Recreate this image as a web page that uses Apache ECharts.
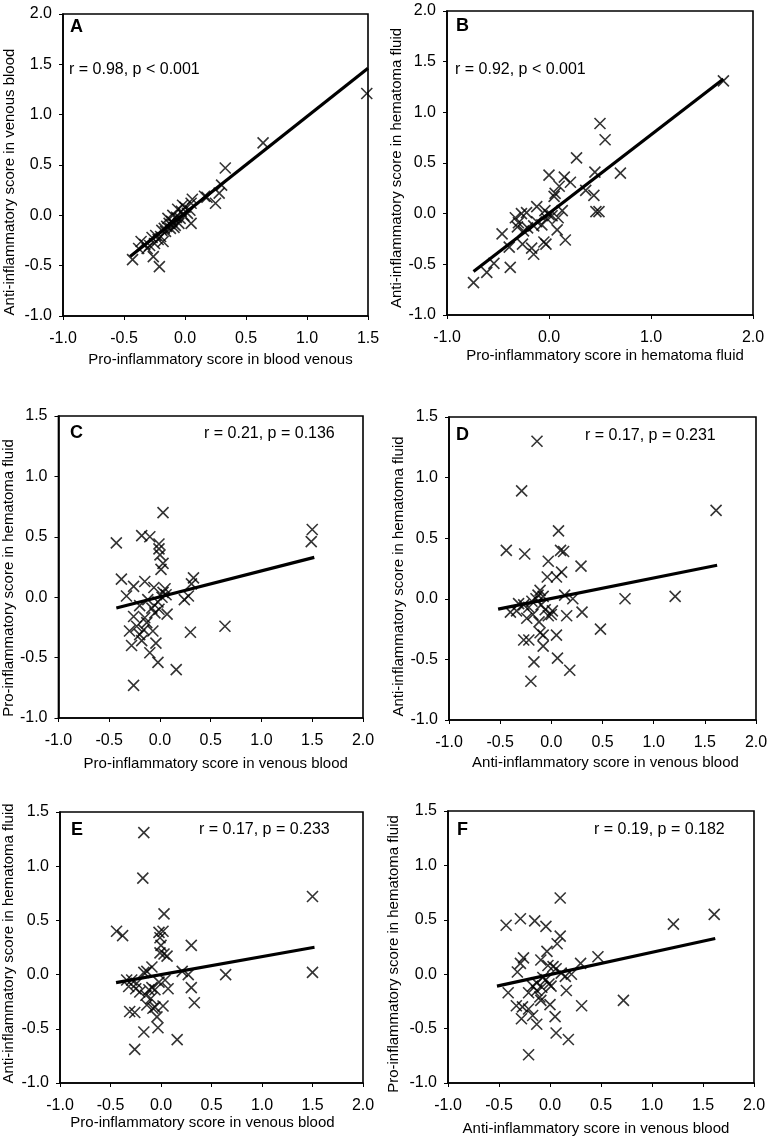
<!DOCTYPE html>
<html>
<head>
<meta charset="utf-8">
<script src="https://cdn.jsdelivr.net/npm/echarts@6/dist/echarts.min.js"></script>
<style>
html,body{margin:0;padding:0;background:#fff;}
#chart{width:771px;height:1142px;}
</style>
</head>
<body>
<div id="chart"></div>
<script>
// ---- Data ----
const pointsA = [[1.49,1.21],[0.64,0.72],[0.33,0.47],[0.30,0.30],[0.28,0.22],[0.25,0.12],[0.18,0.18],[0.16,0.19],[0.06,0.16],[0.05,0.12],[0.04,0.05],[0.05,-0.08],[0.02,0.02],[-0.01,0.00],[-0.02,0.10],[-0.03,0.04],[-0.04,-0.03],[-0.06,0.06],[-0.07,-0.02],[-0.08,-0.10],[-0.10,0.00],[-0.11,-0.06],[-0.12,-0.13],[-0.13,-0.08],[-0.14,-0.03],[-0.15,-0.11],[-0.16,-0.16],[-0.17,-0.13],[-0.18,-0.26],[-0.19,-0.15],[-0.20,-0.21],[-0.21,-0.51],[-0.22,-0.24],[-0.24,-0.20],[-0.25,-0.28],[-0.26,-0.41],[-0.27,-0.22],[-0.29,-0.30],[-0.31,-0.33],[-0.33,-0.29],[-0.36,-0.26],[-0.38,-0.33],[-0.43,-0.44],[0.00,0.08],[-0.05,-0.08],[-0.09,-0.12]];
const pointsB = [[1.71,1.31],[0.50,0.89],[0.55,0.73],[0.27,0.55],[0.70,0.40],[0.45,0.41],[0.44,0.18],[0.36,0.23],[0.46,0.02],[0.49,0.02],[0.00,0.38],[0.15,0.36],[0.21,0.31],[0.10,0.27],[0.06,0.20],[0.05,0.17],[0.13,0.03],[0.09,-0.04],[0.08,-0.16],[0.16,-0.26],[-0.04,0.03],[0.00,-0.01],[0.03,-0.02],[-0.12,0.07],[-0.22,0.01],[-0.27,0.00],[-0.33,-0.04],[-0.30,-0.09],[-0.31,-0.13],[-0.21,-0.14],[-0.15,-0.12],[-0.12,-0.08],[-0.07,-0.11],[-0.05,-0.28],[-0.03,-0.30],[-0.46,-0.20],[-0.26,-0.30],[-0.39,-0.33],[-0.17,-0.34],[-0.15,-0.40],[-0.38,-0.53],[-0.54,-0.49],[-0.61,-0.58],[-0.74,-0.68],[-0.02,-0.05],[-0.25,-0.17]];
const pointsC = [[1.50,0.56],[1.49,0.46],[0.03,0.70],[-0.43,0.45],[-0.18,0.51],[-0.10,0.50],[-0.01,0.44],[-0.01,0.40],[0.00,0.35],[0.03,0.28],[0.01,0.23],[-0.38,0.15],[-0.26,0.09],[-0.15,0.13],[-0.33,0.01],[0.33,0.16],[0.31,0.11],[0.28,0.01],[0.24,-0.02],[-0.06,0.08],[0.05,0.07],[0.06,0.02],[0.02,0.00],[-0.02,-0.04],[0.07,-0.14],[-0.12,-0.02],[-0.08,-0.09],[-0.05,-0.13],[-0.20,-0.07],[-0.26,-0.16],[-0.15,-0.17],[-0.13,-0.21],[-0.23,-0.24],[-0.16,-0.27],[-0.07,-0.28],[-0.30,-0.28],[-0.20,-0.31],[-0.28,-0.40],[-0.18,-0.36],[-0.04,-0.38],[-0.10,-0.46],[-0.02,-0.54],[0.16,-0.60],[0.30,-0.29],[0.64,-0.24],[-0.26,-0.73],[-0.01,-0.10],[0.03,0.04]];
const pointsD = [[-0.14,1.30],[-0.29,0.89],[1.61,0.73],[0.07,0.56],[-0.44,0.40],[-0.26,0.37],[0.09,0.40],[0.12,0.39],[-0.03,0.31],[0.29,0.27],[-0.04,0.18],[0.05,0.18],[0.10,0.22],[0.72,0.00],[1.21,0.02],[0.13,0.03],[0.21,0.00],[-0.11,0.07],[-0.13,0.03],[-0.15,0.00],[-0.08,0.02],[-0.32,-0.04],[-0.27,-0.05],[-0.19,-0.02],[-0.40,-0.11],[-0.34,-0.10],[-0.24,-0.16],[-0.18,-0.13],[-0.12,-0.19],[-0.06,-0.09],[0.00,-0.13],[-0.03,-0.14],[0.01,-0.10],[0.15,-0.14],[0.30,-0.11],[0.48,-0.25],[-0.11,-0.28],[-0.08,-0.30],[0.05,-0.30],[-0.27,-0.34],[-0.22,-0.34],[-0.08,-0.39],[0.06,-0.49],[0.18,-0.59],[-0.17,-0.52],[-0.20,-0.68],[-0.10,-0.05],[-0.22,-0.07]];
const pointsE = [[-0.17,1.31],[-0.18,0.89],[1.50,0.72],[1.50,0.02],[0.03,0.56],[-0.44,0.40],[-0.38,0.36],[-0.02,0.39],[0.02,0.40],[-0.01,0.34],[0.00,0.27],[0.30,0.27],[-0.01,0.20],[0.03,0.19],[0.06,0.17],[-0.09,0.07],[-0.14,0.03],[-0.17,0.02],[0.21,0.03],[0.27,0.00],[0.64,0.00],[0.04,-0.05],[0.07,-0.13],[0.30,-0.12],[0.33,-0.26],[-0.34,-0.05],[-0.29,-0.05],[-0.24,-0.08],[-0.32,-0.11],[-0.21,-0.16],[-0.15,-0.19],[-0.09,-0.12],[-0.06,-0.14],[-0.02,-0.07],[-0.14,-0.28],[-0.08,-0.31],[0.02,-0.29],[-0.10,-0.22],[-0.04,-0.39],[-0.03,-0.49],[-0.31,-0.34],[-0.26,-0.35],[-0.17,-0.53],[0.16,-0.60],[-0.26,-0.69],[-0.12,-0.14],[-0.25,-0.13],[-0.06,-0.30]];
const pointsF = [[0.10,0.70],[1.61,0.55],[1.21,0.46],[-0.43,0.45],[-0.29,0.51],[-0.15,0.49],[-0.04,0.44],[0.10,0.35],[0.07,0.28],[-0.03,0.21],[-0.26,0.15],[-0.29,0.10],[-0.32,0.02],[-0.09,0.13],[-0.02,0.08],[0.03,0.07],[0.06,0.05],[0.30,0.10],[0.47,0.16],[0.11,0.01],[0.15,-0.02],[0.21,0.00],[-0.07,-0.03],[-0.04,-0.05],[-0.01,-0.09],[-0.17,-0.11],[-0.13,-0.15],[-0.41,-0.17],[-0.21,-0.17],[-0.10,-0.21],[0.01,-0.11],[0.16,-0.15],[-0.33,-0.29],[-0.27,-0.30],[-0.21,-0.32],[-0.09,-0.24],[0.00,-0.28],[0.31,-0.29],[0.72,-0.24],[-0.28,-0.41],[-0.17,-0.38],[0.05,-0.39],[-0.13,-0.46],[0.06,-0.54],[0.18,-0.60],[-0.21,-0.74],[-0.13,-0.08],[-0.08,-0.12]];

// regression line end points
const lineA = [[-0.45,-0.41],[1.50,1.46]];
const lineB = [[-0.74,-0.57],[1.71,1.33]];
const lineC = [[-0.43,-0.09],[1.52,0.33]];
const lineD = [[-0.52,-0.085],[1.62,0.277]];
const lineE = [[-0.445,-0.074],[1.52,0.252]];
const lineF = [[-0.52,-0.11],[1.62,0.328]];

const panelLetters = ['A','B','C','D','E','F'];
const statTexts = ['r = 0.98, p < 0.001','r = 0.92, p < 0.001','r = 0.21, p = 0.136','r = 0.17, p = 0.231','r = 0.17, p = 0.233','r = 0.19, p = 0.182'];
const xTitles = ['Pro-inflammatory score in blood venous','Pro-inflammatory score in hematoma fluid','Pro-inflammatory score in venous blood','Anti-inflammatory score in venous blood','Pro-inflammatory score in venous blood','Anti-inflammatory score in venous blood'];
const yTitles = ['Anti-inflammatory score in venous blood','Anti-inflammatory score in hematoma fluid','Pro-inflammatory score in hematoma fluid','Anti-inflammatory score in hematoma fluid','Anti-inflammatory score in hematoma fluid','Pro-inflammatory score in hematoma fluid'];
const xRanges = [[-1,1.5,0.5],[-1,2,1],[-1,2,0.5],[-1,2,0.5],[-1,2,0.5],[-1,2,0.5]];
const yRanges = [[-1,2,0.5],[-1,2,0.5],[-1,1.5,0.5],[-1,1.5,0.5],[-1,1.5,0.5],[-1,1.5,0.5]];

const pointSets = [pointsA,pointsB,pointsC,pointsD,pointsE,pointsF];
const lineSets = [lineA,lineB,lineC,lineD,lineE,lineF];

// ---- Layout ----
const grids = [
  {left:63, top:14, width:305, height:302},
  {left:447, top:11, width:306, height:304},
  {left:58, top:416, width:305, height:302},
  {left:449, top:417, width:307, height:303},
  {left:60, top:812, width:303, height:271},
  {left:448, top:811, width:306, height:272}
];
const xNameGap = [36,33,38,35,32,38];
const xNameShift = [5,5,5,3,-9,-5];   // + = right
const yNameGap = [46,43,42,38,44,47];
const yNameShift = [17,5,11,8,-4,7];  // + = down
const letterPos = [[70,28],[456,27],[70,434],[456,436],[71,831],[457,831]];
const statPos = [[69,71],[455,71],[204,435],[585,437],[199,831],[594,831]];

const FONT = '"Liberation Sans", Arial, Helvetica, sans-serif';
const fmt = v => v.toFixed(1);

const option = {
  animation:false,
  backgroundColor:'#fff',
  grid: grids.map(g => Object.assign({show:true, borderColor:'#000', borderWidth:1.6, backgroundColor:'transparent'}, g)),
  xAxis: grids.map((g,i) => {
    const s = xNameShift[i];
    return {
      gridIndex:i, type:'value', min:xRanges[i][0], max:xRanges[i][1], interval:xRanges[i][2],
      axisLine:{show:true, onZero:false, lineStyle:{color:'#000', width:1.6}},
      axisTick:{show:true, inside:false, length:4, lineStyle:{color:'#000', width:1}},
      axisLabel:{formatter:fmt, color:'#000', fontFamily:FONT, fontSize:16, margin:15},
      splitLine:{show:false},
      name:xTitles[i], nameLocation:'middle', nameGap:xNameGap[i],
      nameTextStyle:{color:'#000', fontFamily:FONT, fontSize:15,
        padding: s>=0 ? [0,0,0,2*s] : [0,-2*s,0,0]}
    };
  }),
  yAxis: grids.map((g,i) => {
    const s = yNameShift[i];
    return {
      gridIndex:i, type:'value', min:yRanges[i][0], max:yRanges[i][1], interval:yRanges[i][2],
      axisLine:{show:true, onZero:false, lineStyle:{color:'#000', width:1.6}},
      axisTick:{show:true, inside:false, length:4, lineStyle:{color:'#000', width:1}},
      axisLabel:{formatter:fmt, color:'#000', fontFamily:FONT, fontSize:16, margin:11},
      splitLine:{show:false},
      name:yTitles[i], nameLocation:'middle', nameGap:yNameGap[i], nameRotate:90,
      nameTextStyle:{color:'#000', fontFamily:FONT, fontSize:15,
        padding: s>=0 ? [0,2*s,0,0] : [0,0,0,-2*s]}
    };
  }),
  series: [],
  graphic: []
};

pointSets.forEach((pts,i) => {
  option.series.push({
    type:'scatter', xAxisIndex:i, yAxisIndex:i, data:pts,
    symbol:'path://M0,0L10,10M10,0L0,10', symbolSize:11,
    itemStyle:{color:'transparent', borderColor:'#000', borderWidth:1.6},
    silent:true, z:3
  });
  option.series.push({
    type:'line', xAxisIndex:i, yAxisIndex:i, data:lineSets[i],
    symbol:'none', lineStyle:{color:'#000', width:3.2}, silent:true, z:4
  });
  option.graphic.push({
    type:'text', left:letterPos[i][0], top:letterPos[i][1]-10,
    style:{text:panelLetters[i], font:'bold 18px '+FONT, fill:'#000'}
  });
  option.graphic.push({
    type:'text', left:statPos[i][0], top:statPos[i][1]-9,
    style:{text:statTexts[i], font:'16px '+FONT, fill:'#000'}
  });
});

const chart = echarts.init(document.getElementById('chart'), null, {renderer:'canvas'});
chart.setOption(option);
</script>
</body>
</html>
